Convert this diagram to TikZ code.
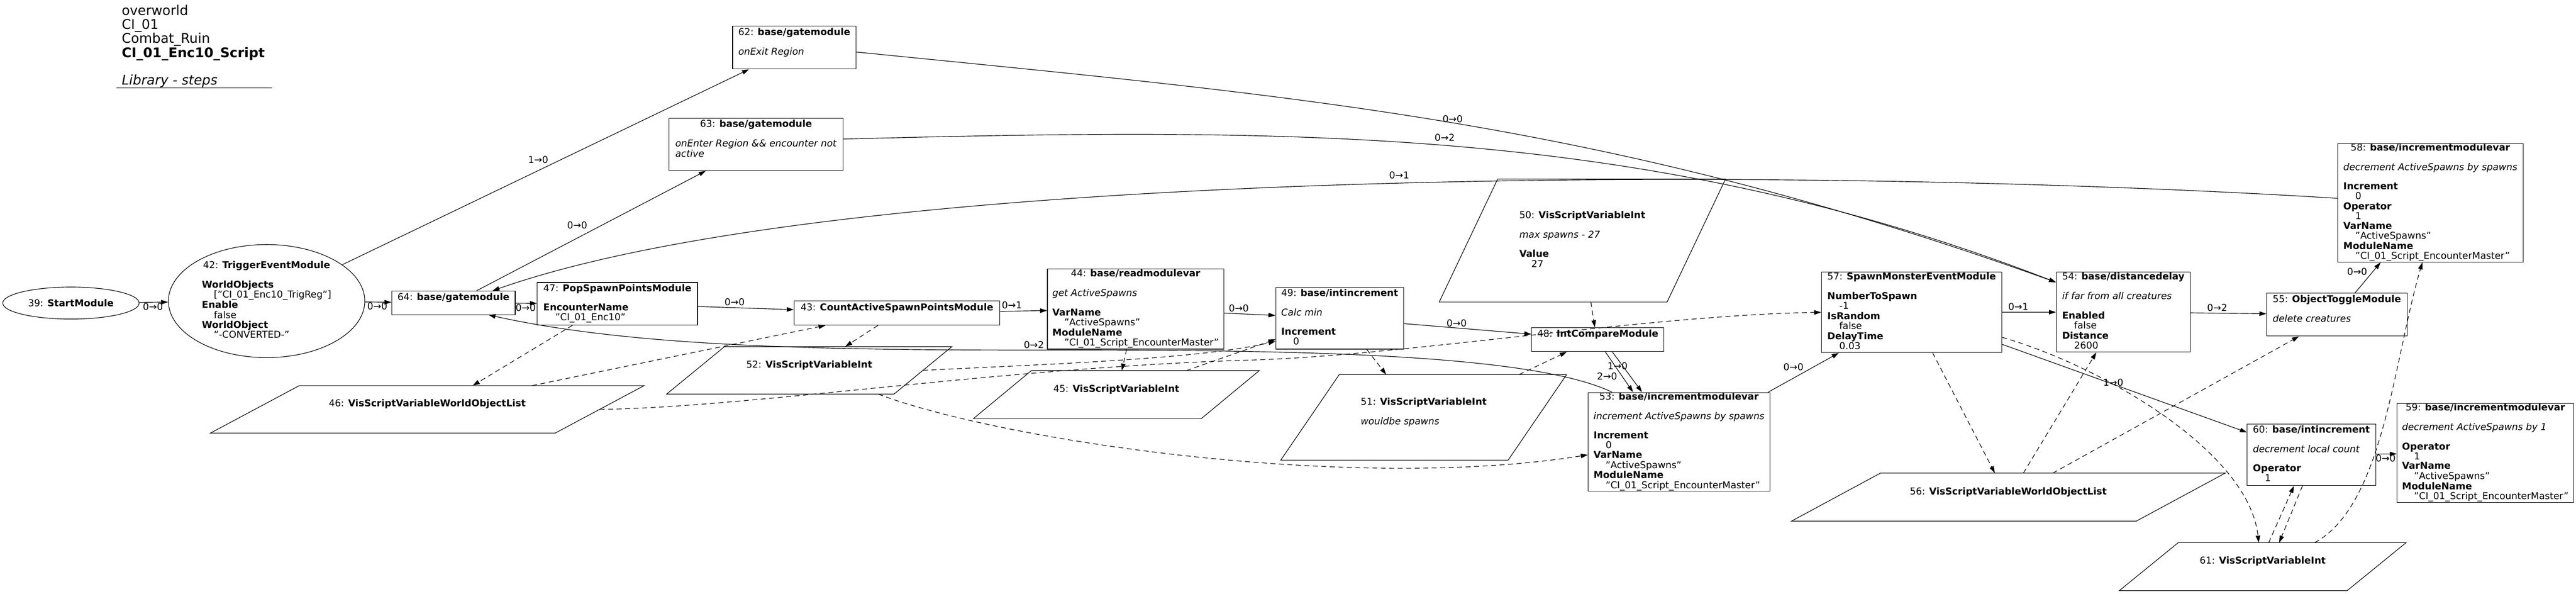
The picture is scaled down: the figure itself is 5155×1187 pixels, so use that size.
\documentclass[tikz,border=0pt]{standalone}
\usepackage{fontspec}
\setmainfont{DejaVu Sans}[BoldFont={DejaVu Sans Bold}, ItalicFont={DejaVu Sans Oblique}, BoldItalicFont={DejaVu Sans Bold Oblique}]
\usepackage{tikz}
\usetikzlibrary{arrows.meta}
\usetikzlibrary{shapes.geometric}

\newcommand{\nodefont}{\fontsize{19}{19}\selectfont}
\newcommand{\hdrfont}{\fontsize{26.7}{26.8}\selectfont}
\newcommand{\ttl}[2]{#1: \textbf{#2}}
\newcommand{\ind}{\hspace*{24pt}}
\newcommand{\mlab}[2]{\begin{tabular}{@{}l@{}}\multicolumn{1}{@{}c@{}}{#1}\\#2\end{tabular}}

\tikzset{
	module/.style 2 args={draw, rectangle, inner sep=0pt, minimum width=#1pt, minimum height=#2pt},
	trig/.style 2 args={draw, ellipse, inner sep=0pt, minimum width=#1pt, minimum height=#2pt},
	varbox/.style 2 args={rectangle, inner sep=0pt, outer sep=0pt, minimum width=#1pt, minimum height=#2pt}, % outline drawn below
	flow/.style={->},
	data/.style={->, dash pattern=on 10pt off 7pt},
	lbl/.style={inner sep=0pt}
}

\begin{document}
\begin{tikzpicture}[x=1pt, y=-1pt, line width=1.2pt, font=\nodefont, >={Triangle[length=14pt, width=9pt]}]
	\useasboundingbox (0,0) rectangle (5155,1187);

	% Header
	\node (hdr) [anchor=base west, inner sep=0pt, font=\hdrfont] at (243,30) {\begin{tabular}[t]{@{}l@{}}overworld\\CI\_01\\Combat\_Ruin\\\textbf{CI\_01\_Enc10\_Script}\\\\\textit{Library - steps}\end{tabular}};
	\draw (233,176) -- (544,176);

	% Nodes
	\node (n39) [trig={273}{64}] at (142,606) {\ttl{39}{StartModule}};
	\node (n42) [trig={393}{226}] at (533.5,602) {\mlab{\ttl{42}{TriggerEventModule}}{\\\textbf{WorldObjects}\\\ind["CI\_01\_Enc10\_TrigReg"]\\\textbf{Enable}\\\ind false\\\textbf{WorldObject}\\\ind"-CONVERTED-"}};
	\node (n64) [module={247}{47}] at (907.5,605.5) {\mlab{\ttl{64}{base/gatemodule}}{{}}};
	\node (n47) [module={321}{85}] at (1235.5,607.5) {\mlab{\ttl{47}{PopSpawnPointsModule}}{\\\textbf{EncounterName}\\\ind"CI\_01\_Enc10"}};
	\node (n43) [module={412}{48}] at (1795,626) {\mlab{\ttl{43}{CountActiveSpawnPointsModule}}{{}}};
	\node (n44) [module={353}{160}] at (2272.5,618) {\mlab{\ttl{44}{base/readmodulevar}}{\\\textit{get ActiveSpawns}\\\\\textbf{VarName}\\\ind"ActiveSpawns"\\\textbf{ModuleName}\\\ind"CI\_01\_Script\_EncounterMaster"}};
	\node (n49) [module={256}{123}] at (2681,636.5) {\mlab{\ttl{49}{base/intincrement}}{\\\textit{Calc min}\\\\\textbf{Increment}\\\ind 0}};
	\node (n48) [module={265}{48}] at (3197.5,679) {\mlab{\ttl{48}{IntCompareModule}}{{}}};
	\node (n53) [module={364}{197}] at (3360,883.5) {\mlab{\ttl{53}{base/incrementmodulevar}}{\\\textit{increment ActiveSpawns by spawns}\\\\\textbf{Increment}\\\ind 0\\\textbf{VarName}\\\ind"ActiveSpawns"\\\textbf{ModuleName}\\\ind"CI\_01\_Script\_EncounterMaster"}};
	\node (n57) [module={361}{161}] at (3825.5,624.5) {\mlab{\ttl{57}{SpawnMonsterEventModule}}{\\\textbf{NumberToSpawn}\\\ind -1\\\textbf{IsRandom}\\\ind false\\\textbf{DelayTime}\\\ind 0.03}};
	\node (n54) [module={268}{160}] at (4249,624) {\mlab{\ttl{54}{base/distancedelay}}{\\\textit{if far from all creatures}\\\\\textbf{Enabled}\\\ind false\\\textbf{Distance}\\\ind 2600}};
	\node (n55) [module={281}{86}] at (4676.5,629) {\mlab{\ttl{55}{ObjectToggleModule}}{\\\textit{delete creatures}\\{}}};
	\node (n58) [module={371}{235}] at (4863.5,405.5) {\mlab{\ttl{58}{base/incrementmodulevar}}{\\\textit{decrement ActiveSpawns by spawns}\\\\\textbf{Increment}\\\ind 0\\\textbf{Operator}\\\ind 1\\\textbf{VarName}\\\ind"ActiveSpawns"\\\textbf{ModuleName}\\\ind"CI\_01\_Script\_EncounterMaster"}};
	\node (n60) [module={257}{123}] at (4625.5,909.5) {\mlab{\ttl{60}{base/intincrement}}{\\\textit{decrement local count}\\\\\textbf{Operator}\\\ind 1}};
	\node (n59) [module={353}{197}] at (4973.5,905.5) {\mlab{\ttl{59}{base/incrementmodulevar}}{\\\textit{decrement ActiveSpawns by 1}\\\\\textbf{Operator}\\\ind 1\\\textbf{VarName}\\\ind"ActiveSpawns"\\\textbf{ModuleName}\\\ind"CI\_01\_Script\_EncounterMaster"}};
	\node (n62) [module={247}{86}] at (1589.5,95) {\mlab{\ttl{62}{base/gatemodule}}{\\\textit{onExit Region}\\{}}};
	\node (n63) [module={348}{104}] at (1513,289) {\mlab{\ttl{63}{base/gatemodule}}{\\\textit{onEnter Region \&\& encounter not}\\\textit{active}\\{}}};

	\node (v46) [varbox={868}{95}] at (855,818.5) {\mlab{\ttl{46}{VisScriptVariableWorldObjectList}}{{}}};
	\node (v52) [varbox={571}{95}] at (1619.5,740.5) {\mlab{\ttl{52}{VisScriptVariableInt}}{{}}};
	\node (v45) [varbox={572}{96}] at (2234,789) {\mlab{\ttl{45}{VisScriptVariableInt}}{{}}};
	\node (v51) [varbox={572}{171}] at (2849,834.5) {\mlab{\ttl{51}{VisScriptVariableInt}}{\\\textit{wouldbe spawns}\\{}}};
	\node (v50) [varbox={573}{246}] at (3166.5,481) {\mlab{\ttl{50}{VisScriptVariableInt}}{\\\textit{max spawns - 27}\\\\\textbf{Value}\\\ind 27}};
	\node (v56) [varbox={868}{96}] at (4019,994) {\mlab{\ttl{56}{VisScriptVariableWorldObjectList}}{{}}};
	\node (v61) [varbox={574}{96}] at (4528,1133) {\mlab{\ttl{61}{VisScriptVariableInt}}{{}}};

	% Variable outlines
	\foreach \v/\sk in {v46/178, v52/116, v45/116, v51/117, v50/117, v56/178, v61/118}
		\draw ([xshift=\sk pt]\v.north west) -- (\v.north east) -- ([xshift=-\sk pt]\v.south east) -- (\v.south west) -- cycle;

	% Flow edges
	\draw[flow] (n39) -- (n42) node[lbl] (l1) at (306,613) {0→0};
	\draw[flow] (n42) -- (n64) node[lbl] (l2) at (755,612) {0→0};
	\draw[flow] (n42) -- (n62) node[lbl] (l3) at (1077,319) {1→0};
	\draw[flow] (n64) -- (n63) node[lbl] (l4) at (1155,450) {0→0};
	\draw[flow] (n64) -- (n47) node[lbl] (l5) at (1052,615) {0→0};
	\draw[flow] (n47) -- (n43) node[lbl] (l6) at (1470,604) {0→0};
	\draw[flow] (n43) -- (n44) node[lbl] (l7) at (2025,610) {0→1};
	\draw[flow] (n44) -- (n49) node[lbl] (l8) at (2479,616) {0→0};
	\draw[flow] (n49) -- (n48) node[lbl] (l9) at (2915,646) {0→0};
	\draw[flow] ([xshift=15pt]n48.south) -- ([xshift=-92pt]n53.north) node[lbl] (l10) at (3216,752) {2→0};
	\draw[flow] ([xshift=29pt]n48.south) -- ([xshift=-74pt]n53.north) node[lbl] (l11) at (3237,732) {1→0};
	\draw[flow] (n53) -- (n57) node[lbl] (l12) at (3589,734) {0→0};
	\draw[flow] (n57) -- (n54) node[lbl] (l13) at (4039,613) {0→1};
	\draw[flow] (n54) -- (n55) node[lbl] (l14) at (4437,615) {0→2};
	\draw[flow] (n55) -- (n58) node[lbl] (l15) at (4717,543) {0→0};
	\draw[flow] ([yshift=-64pt]n57.east) -- ([yshift=45pt]n60.west) node[lbl] (l16) at (4229,765) {1→0};
	\draw[flow] (n60) -- (n59) node[lbl] (l17) at (4774,916) {0→0};
	\draw[flow] ([yshift=-9pt]n62.east) .. controls (2613,194) and (3215,242) .. ([yshift=-21pt]n54.north west) node[lbl] (l18) at (2907,238) {0→0};
	\draw[flow] ([yshift=11pt]n63.east) .. controls (2587,255) and (3300,250) .. ([yshift=-21pt]n54.north west) node[lbl] (l19) at (2891,275) {0→2};
	\draw[flow] ([yshift=9pt]n58.west) .. controls (3600,330) and (1700,330) .. ([xshift=78pt]n64.north) node[lbl] (l20) at (2800,350) {0→1};
	\draw[flow] ([xshift=-134pt]n53.north) .. controls (3050,700) and (2500,700) .. (2050,700) .. controls (1600,700) and (1250,690) .. ([xshift=70pt]n64.south) node[lbl] (l21) at (2069,690) {0→2};

	% Data edges
	\draw[data] ([xshift=-90pt]n47.south) -- ([xshift=91pt]v46.north);
	\draw[data] ([xshift=210pt]v46.north) -- ([xshift=-143pt]n43.south);
	\draw[data] ([xshift=-38pt]n43.south) -- ([xshift=72pt]v52.north);
	\draw[data] ([xshift=-89pt]v46.east) .. controls (1500,815) and (2000,735) .. (2500,720) .. controls (2800,712) and (3300,630) .. (n57.west);
	\draw[data] ([xshift=-58pt]v52.east) .. controls (2100,728) and (2400,718) .. ([yshift=-46pt]n49.west);
	\draw[data] ([xshift=138pt]v52.south) .. controls (2000,880) and (2700,985) .. ([yshift=-26pt]n53.west);
	\draw[data] ([xshift=-18pt]n44.south) -- ([xshift=11pt]v45.north);
	\draw[data] ([xshift=140pt]v45.north) -- ([yshift=-42pt]n49.west);
	\draw[data] ([xshift=54pt]n49.south) -- ([xshift=-75pt]v51.north);
	\draw[data] ([xshift=191pt]v51.north) -- ([xshift=-62pt]n48.south);
	\draw[data] ([xshift=17pt]v50.south) -- ([xshift=-6pt]n48.north);
	\draw[data] ([xshift=42pt]n57.south) -- ([xshift=-27pt]v56.north);
	\draw[data] ([xshift=30pt]v56.north) -- ([xshift=-54pt]n54.south);
	\draw[data] ([xshift=89pt]v56.north) -- ([xshift=-76pt]n55.south);
	\draw[data] ([yshift=-50pt]n57.east) .. controls (4200,730) and (4500,900) .. ([xshift=-8pt]v61.north);
	\draw[data] ([xshift=12pt]v61.north) -- ([xshift=-35pt]n60.south);
	\draw[data] ([xshift=-18pt]n60.south) -- ([xshift=33pt]v61.north);
	\draw[data] ([xshift=104pt]v61.north) .. controls (4770,1010) and (4790,720) .. ([xshift=-16pt]n58.south);

\end{tikzpicture}
\end{document}
